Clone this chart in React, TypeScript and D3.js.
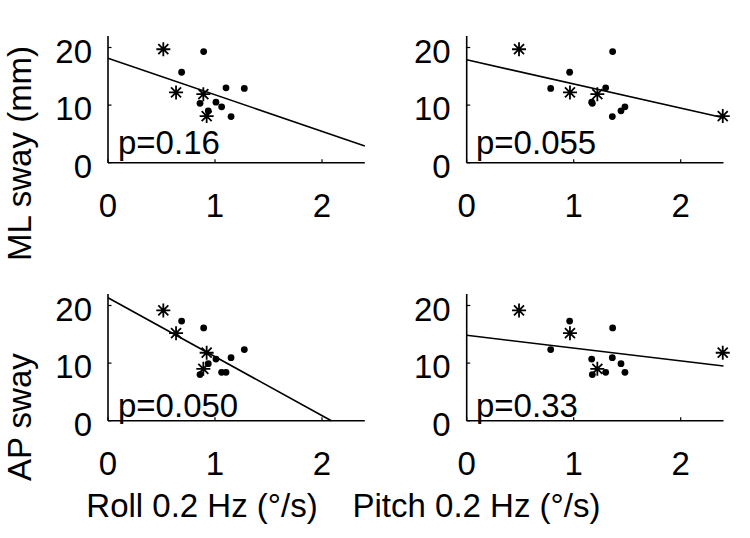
import React from "react";
import * as d3 from "d3";

// Control subjects (dots)
const ctrlRoll = [0.894, 0.688, 1.103, 1.274, 0.86, 1.009, 1.062, 0.937, 1.15];
const ctrlPitch = [1.364, 0.962, 1.299, 0.785, 1.174, 1.168, 1.479, 1.442, 1.361];
const ctrlML = [19.3, 15.7, 13.0, 12.9, 10.3, 10.5, 9.7, 9.0, 8.0];
const ctrlAP = [16.1, 17.3, 8.4, 12.35, 8.0, 10.7, 8.4, 9.9, 10.95];

// Patients (stars)
const patRoll = [0.517, 0.636, 0.891, 0.922];
const patPitch = [0.489, 0.965, 1.221, 2.393];
const patML = [19.7, 12.2, 11.9, 8.1];
const patAP = [19.15, 15.2, 9.0, 11.8];

// Regression lines per panel: [ML-roll, ML-pitch, AP-roll, AP-pitch]
const fitIntercept = [18.15, 17.86, 21.35, 14.83];
const fitSlope = [-6.35, -4.19, -10.23, -2.22];
const pLabels = ["p=0.16", "p=0.055", "p=0.050", "p=0.33"];

const xTicks = [0, 1, 2];
const yTicks = [0, 10, 20];
const xTitles = ["Roll 0.2 Hz (\u00B0/s)", "Pitch 0.2 Hz (\u00B0/s)"];
const yTitles = ["ML sway (mm)", "AP sway"];

const FONT = "'Liberation Sans', Arial, sans-serif";
const FS = 33;

function Star({ x, y }: { x: number; y: number }) {
  const a = 7;
  const d = 5;
  const p = `M${x - a},${y}L${x + a},${y}M${x},${y - a}L${x},${y + a}M${x - d},${y - d}L${x + d},${y + d}M${x - d},${y + d}L${x + d},${y - d}`;
  return <path d={p} stroke="#000" strokeWidth={1.8} fill="none" />;
}

function Panel({
  idx,
  left,
  zeroY,
  cx,
  cy,
  px,
  py,
  textX,
  textY,
}: {
  idx: number;
  left: number;
  zeroY: number;
  cx: number[];
  cy: number[];
  px: number[];
  py: number[];
  textX: number;
  textY: number;
}) {
  const x = d3.scaleLinear().domain([0, 2.4]).range([left, left + 2.4 * 107]);
  const y = d3.scaleLinear().domain([0, 22]).range([zeroY, zeroY - 22 * 5.76]);
  const b = fitIntercept[idx];
  const m = fitSlope[idx];
  let xEnd = 2.4;
  if (b + m * xEnd < 0) xEnd = -b / m;
  const line = d3.line<number>().x((v) => x(v)).y((v) => y(b + m * v));
  return (
    <g>
      {/* regression line */}
      <path d={line([0, xEnd]) || ""} stroke="#000" strokeWidth={1.6} fill="none" />
      {/* axes */}
      <line x1={x(0)} x2={x(2.4)} y1={y(0)} y2={y(0)} stroke="#000" strokeWidth={1.6} />
      <line x1={x(0)} x2={x(0)} y1={y(0)} y2={y(22)} stroke="#000" strokeWidth={1.6} />
      {xTicks.map((t) => (
        <g key={"xt" + t}>
          <line x1={x(t)} x2={x(t)} y1={y(0)} y2={y(0) - 3.5} stroke="#000" strokeWidth={1.2} />
          <text x={x(t)} y={y(0) + 54} textAnchor="middle" fontFamily={FONT} fontSize={FS}>
            {t}
          </text>
        </g>
      ))}
      {yTicks.map((t) => (
        <g key={"yt" + t}>
          <line x1={x(0)} x2={x(0) + 3.5} y1={y(t)} y2={y(t)} stroke="#000" strokeWidth={1.2} />
          <text x={x(0) - 16} y={y(t) + 15} textAnchor="end" fontFamily={FONT} fontSize={FS}>
            {t}
          </text>
        </g>
      ))}
      {cx.map((v, i) => (
        <circle key={"c" + i} cx={x(v)} cy={y(cy[i])} r={3.4} fill="#000" />
      ))}
      {px.map((v, i) => (
        <Star key={"s" + i} x={x(v)} y={y(py[i])} />
      ))}
      <text x={textX} y={textY} fontFamily={FONT} fontSize={FS}>
        {pLabels[idx]}
      </text>
    </g>
  );
}

export default function App() {
  const L = 108;
  const R = 466.7;
  const T = 162.7;
  const B = 420.7;
  return (
    <svg
      width={750}
      height={538}
      style={{ position: "absolute", left: 0, top: 0, background: "#fff" }}
    >
      <rect width={750} height={538} fill="#fff" />
      <Panel idx={0} left={L} zeroY={T} cx={ctrlRoll} cy={ctrlML} px={patRoll} py={patML} textX={118} textY={154} />
      <Panel idx={1} left={R} zeroY={T} cx={ctrlPitch} cy={ctrlML} px={patPitch} py={patML} textX={476} textY={154} />
      <Panel idx={2} left={L} zeroY={B} cx={ctrlRoll} cy={ctrlAP} px={patRoll} py={patAP} textX={118} textY={416.7} />
      <Panel idx={3} left={R} zeroY={B} cx={ctrlPitch} cy={ctrlAP} px={patPitch} py={patAP} textX={476} textY={416.7} />
      <text x={202} y={516.5} textAnchor="middle" fontFamily={FONT} fontSize={FS}>
        {xTitles[0]}
      </text>
      <text x={476.5} y={516.5} textAnchor="middle" fontFamily={FONT} fontSize={FS}>
        {xTitles[1]}
      </text>
      <text transform="translate(31,261) rotate(-90)" fontFamily={FONT} fontSize={FS}>
        {yTitles[0]}
      </text>
      <text transform="translate(31,481) rotate(-90)" fontFamily={FONT} fontSize={FS}>
        {yTitles[1]}
      </text>
    </svg>
  );
}
